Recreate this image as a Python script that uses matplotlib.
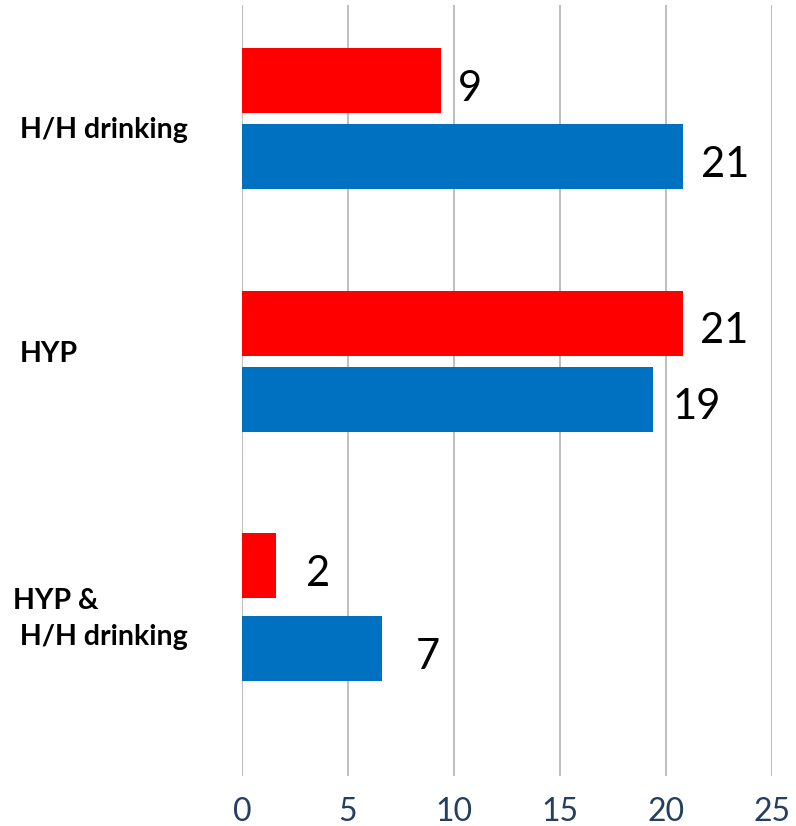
import matplotlib.pyplot as plt
from matplotlib.transforms import blended_transform_factory

# categories, top to bottom
categories = ["H/H drinking", "HYP", "HYP &\n H/H drinking"]

# bar lengths as drawn, and the numbers printed next to them
red_values = [9.4, 20.8, 1.6]
blue_values = [20.8, 19.4, 6.6]
red_labels = ["9", "21", "2"]
blue_labels = ["21", "19", "7"]

RED = "#FF0000"
BLUE = "#0070C0"
TICK_COLOR = "#243F60"

plt.rcParams["font.family"] = ["Lato", "DejaVu Sans"]

fig = plt.figure(figsize=(7.96, 8.26), dpi=100)
ax = fig.add_axes([242 / 796, 1 - 776 / 826, (772 - 242) / 796, (776 - 5) / 826])

h = 0.267
pair_off = [0.156, 0.156, 0.17]   # half distance between red and blue bar in each group
ypos = [0, 0.995, 2.005]
red_y = [y - o for y, o in zip(ypos, pair_off)]
blue_y = [y + o for y, o in zip(ypos, pair_off)]

ax.barh(red_y, red_values, height=h, color=RED, zorder=3)
ax.barh(blue_y, blue_values, height=h, color=BLUE, zorder=3)

# value labels (extra gap for the short bars, as in the original)
red_pad = [17, 17, 30]
blue_pad = [18, 19, 34]
for y, v, t, p in zip(red_y, red_values, red_labels, red_pad):
    ax.annotate(t, (v, y), xytext=(p * 0.72, -6), textcoords="offset points",
                ha="left", va="center", fontsize=30, color="black")
for y, v, t, p in zip(blue_y, blue_values, blue_labels, blue_pad):
    ax.annotate(t, (v, y), xytext=(p * 0.72, -6), textcoords="offset points",
                ha="left", va="center", fontsize=30, color="black")

# category labels at the far left
label_nudge = [0.045, -0.03, 0.05]
trans = blended_transform_factory(fig.transFigure, ax.transData)
for y, c, n in zip(ypos, categories, label_nudge):
    x0 = 13 if "\n" in c else 20
    ax.text(x0 / 796, y + n, c, transform=trans, ha="left", va="center",
            fontsize=20.5, fontweight="bold", linespacing=1.5)

ax.set_xlim(0, 25)
ax.set_ylim(2.70, -0.468)
ax.set_xticks([0, 5, 10, 15, 20, 25])
ax.set_yticks([])
ax.tick_params(axis="x", length=0, labelsize=23, labelcolor=TICK_COLOR, pad=15)
ax.grid(axis="x", color="#C0C0C0", linewidth=1.5, zorder=0)
ax.set_axisbelow(True)
for s in ax.spines.values():
    s.set_visible(False)

plt.savefig("out.png", dpi=100)
